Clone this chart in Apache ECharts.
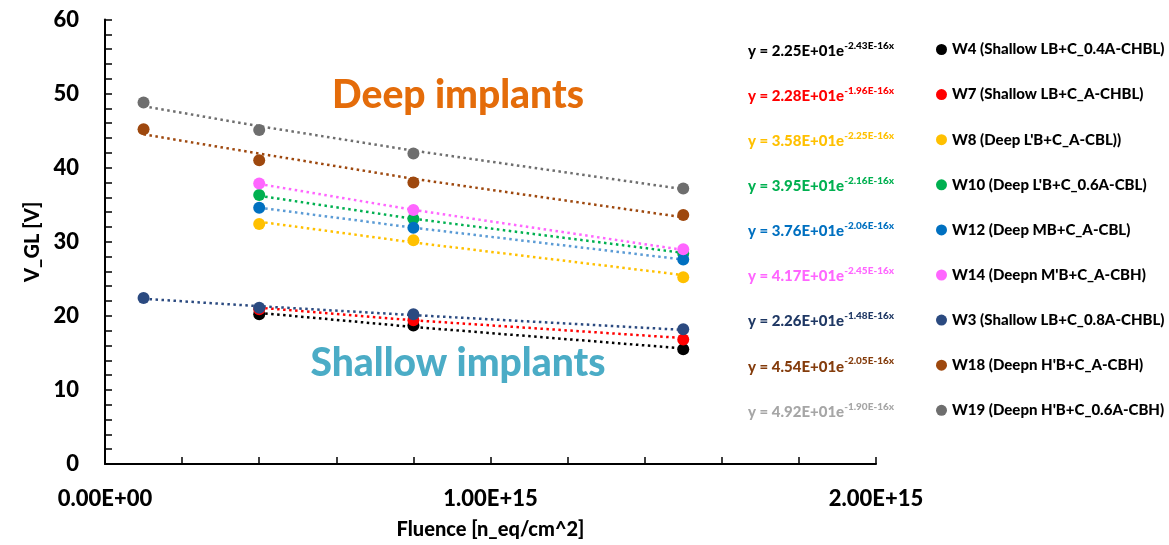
<!DOCTYPE html>
<html>
<head>
<meta charset="utf-8">
<script src="https://cdn.jsdelivr.net/npm/echarts@6/dist/echarts.min.js"></script>
<style>
html,body{margin:0;padding:0;background:#fff;}
#chart{width:1169px;height:545px;}
</style>
</head>
<body>
<div id="chart"></div>
<script>
// ---- data ----
const fluenceAll = [1e14, 4e14, 8e14, 1.5e15];
const fluenceLate = [4e14, 8e14, 1.5e15];

const seriesNames = [
  "W4 (Shallow LB+C_0.4A-CHBL)",
  "W7 (Shallow LB+C_A-CHBL)",
  "W8 (Deep L'B+C_A-CBL))",
  "W10 (Deep L'B+C_0.6A-CBL)",
  "W12 (Deep MB+C_A-CBL)",
  "W14 (Deepn M'B+C_A-CBH)",
  "W3 (Shallow LB+C_0.8A-CHBL)",
  "W18 (Deepn H'B+C_A-CBH)",
  "W19 (Deepn H'B+C_0.6A-CBH)"
];

const w4  = [20.2, 18.7, 15.5];
const w7  = [20.9, 19.4, 16.8];
const w8  = [32.4, 30.2, 25.2];
const w10 = [36.3, 33.1, 28.4];
const w12 = [34.6, 31.9, 27.6];
const w14 = [37.85, 34.3, 29.0];
const w3  = [22.4, 21.1, 20.2, 18.2];
const w18 = [45.2, 41.0, 38.0, 33.6];
const w19 = [48.8, 45.1, 41.9, 37.2];

// exponential trendline values
const trendW4  = [20.4, 18.5, 15.6];
const trendW7  = [21.1, 19.4, 17.0];
const trendW8  = [32.7, 29.9, 25.5];
const trendW10 = [36.2, 33.1, 28.5];
const trendW12 = [34.6, 31.9, 27.6];
const trendW14 = [37.8, 34.3, 28.9];
const trendW3  = [22.3, 21.3, 20.1, 18.1];
const trendW18 = [44.5, 41.9, 38.5, 33.3];
const trendW19 = [48.3, 45.6, 42.3, 37.1];

// trendline equation labels
const eqCoef = ["2.25E+01", "2.28E+01", "3.58E+01", "3.95E+01", "3.76E+01", "4.17E+01", "2.26E+01", "4.54E+01", "4.92E+01"];
const eqExp  = ["-2.43E-16x", "-1.96E-16x", "-2.25E-16x", "-2.16E-16x", "-2.06E-16x", "-2.45E-16x", "-1.48E-16x", "-2.05E-16x", "-1.90E-16x"];

const yTicks = [0, 10, 20, 30, 40, 50, 60];

// ---- styling ----
const markerColors = ["#000000", "#FF0000", "#FFC000", "#00B050", "#0070C0", "#FF66FF", "#2B4A80", "#9E480E", "#6E6E6E"];
const trendColors  = ["#000000", "#FF0000", "#FFC000", "#00B050", "#5B9BD5", "#FF66FF", "#2B4A80", "#9E480E", "#6E6E6E"];
const eqColors     = ["#000000", "#FF0000", "#FFC000", "#00B050", "#0070C0", "#FF66FF", "#1F3864", "#843C0C", "#A6A6A6"];

const xsets = [fluenceLate, fluenceLate, fluenceLate, fluenceLate, fluenceLate, fluenceLate, fluenceAll, fluenceAll, fluenceAll];
const ysets = [w4, w7, w8, w10, w12, w14, w3, w18, w19];
const tsets = [trendW4, trendW7, trendW8, trendW10, trendW12, trendW14, trendW3, trendW18, trendW19];

const FONT = "Lato, 'Open Sans', sans-serif";
const W = 900;

const series = [];
for (let i = 0; i < seriesNames.length; i++) {
  series.push({
    name: seriesNames[i] + " trend",
    type: 'line',
    data: xsets[i].map((x, k) => [x, tsets[i][k]]),
    showSymbol: false,
    symbol: 'none',
    lineStyle: { color: trendColors[i], width: 2.5, type: [2.5, 3.5] },
    silent: true,
    z: 2
  });
}
for (let i = 0; i < seriesNames.length; i++) {
  series.push({
    name: seriesNames[i],
    type: 'scatter',
    data: xsets[i].map((x, k) => [x, ysets[i][k]]),
    symbol: 'circle',
    symbolSize: 12,
    itemStyle: { color: markerColors[i], opacity: 1 },
    z: 3
  });
}

function fmtX(v) {
  let s = v.toExponential(2).toUpperCase();
  return s.replace(/E([+-])(\d)$/, 'E$10$2');
}

const rowY0 = 49.5, rowStep = 45.1;
const graphics = [];
for (let i = 0; i < seriesNames.length; i++) {
  graphics.push({
    type: 'text',
    x: 821,
    y: rowY0 + i * rowStep,
    style: {
      text: '{m|y = ' + eqCoef[i] + 'e}{s|' + eqExp[i] + '}',
      align: 'center',
      verticalAlign: 'middle',
      rich: {
        m: { fontFamily: FONT, fontWeight: W, fontSize: 15, fill: eqColors[i], color: eqColors[i], lineHeight: 18, verticalAlign: 'bottom' },
        s: { fontFamily: FONT, fontWeight: W, fontSize: 10, fill: eqColors[i], color: eqColors[i], lineHeight: 18, verticalAlign: 'top', padding: [0, 0, 6, 0] }
      }
    }
  });
}
graphics.push({
  type: 'text', x: 458, y: 95,
  style: { text: 'Deep implants', align: 'center', verticalAlign: 'middle', fontFamily: FONT, fontWeight: W, fontSize: 39, fill: '#E46C0A' }
});
graphics.push({
  type: 'text', x: 458, y: 363,
  style: { text: 'Shallow implants', align: 'center', verticalAlign: 'middle', fontFamily: FONT, fontWeight: W, fontSize: 39, fill: '#4BACC6' }
});

const chart = echarts.init(document.getElementById('chart'), null, { renderer: 'canvas' });
chart.setOption({
  animation: false,
  backgroundColor: '#ffffff',
  textStyle: { fontFamily: FONT },
  grid: { left: 105, right: 293, top: 19.5, bottom: 81, containLabel: false },
  xAxis: {
    type: 'value',
    min: 0, max: 2e15, interval: 1e15,
    name: 'Fluence [n_eq/cm^2]',
    nameLocation: 'middle',
    nameGap: 56,
    nameTextStyle: { fontFamily: FONT, fontWeight: W, fontSize: 20, color: '#000' },
    axisLine: { show: true, onZero: false, lineStyle: { color: '#000', width: 2 } },
    axisTick: { show: true, inside: true, length: 7, lineStyle: { color: '#000', width: 1.5 } },
    minorTick: { show: true, splitNumber: 5, length: 7, lineStyle: { color: '#000', width: 1.5 } },
    splitLine: { show: false },
    axisLabel: { fontFamily: FONT, fontWeight: W, fontSize: 22, color: '#000', margin: 24, formatter: fmtX }
  },
  yAxis: {
    type: 'value',
    min: yTicks[0], max: yTicks[yTicks.length - 1], interval: 10,
    name: 'V_GL [V]',
    nameLocation: 'middle',
    nameGap: 58,
    nameRotate: 90,
    nameTextStyle: { fontFamily: FONT, fontWeight: W, fontSize: 20, color: '#000' },
    axisLine: { show: true, lineStyle: { color: '#000', width: 2 } },
    axisTick: { show: true, inside: true, length: 7, lineStyle: { color: '#000', width: 1.5 } },
    minorTick: { show: true, splitNumber: 5, length: 7, lineStyle: { color: '#000', width: 1.5 } },
    splitLine: { show: false },
    axisLabel: { fontFamily: FONT, fontWeight: W, fontSize: 22, color: '#000', margin: 26 }
  },
  legend: {
    orient: 'vertical',
    left: 931, top: 37,
    data: seriesNames.map(n => ({ name: n, icon: 'circle' })),
    itemWidth: 11, itemHeight: 11, itemGap: 30.1,
    textStyle: { fontFamily: FONT, fontWeight: W, fontSize: 15, color: '#000', lineHeight: 15 },
    selectedMode: false
  },
  graphic: graphics,
  series: series
});
</script>
</body>
</html>
